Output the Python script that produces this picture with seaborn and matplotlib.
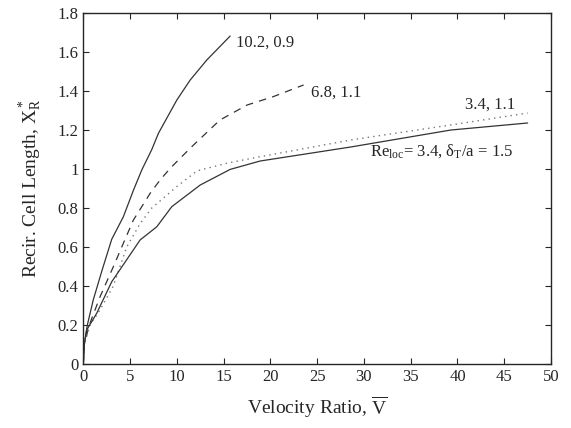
import numpy as np
import pandas as pd
import matplotlib
matplotlib.use('Agg')
import matplotlib.pyplot as plt
import seaborn as sns

# curve: Re_loc = 10.2, dT/a = 0.9
v_a = [0, 0.1, 0.43, 1.07, 2.0, 3.04, 4.28, 5.35, 6.25, 7.32, 8.03, 10.0, 11.42, 13.2, 15.7]
x_a = [0, 0.1, 0.2, 0.33, 0.48, 0.64, 0.755, 0.89, 0.995, 1.1, 1.183, 1.354, 1.456, 1.559, 1.682]
# curve: 6.8, 1.1 (dashed)
v_b = [0, 0.1, 0.64, 1.79, 3.21, 4.28, 5.35, 6.25, 7.14, 8.21, 9.28, 10.35, 11.78, 14.6, 17.5, 20.3, 23.55]
x_b = [0, 0.1, 0.2, 0.345, 0.499, 0.619, 0.738, 0.807, 0.875, 0.944, 1.003, 1.055, 1.123, 1.251, 1.328, 1.371, 1.431]
# curve: 3.4, 1.1 (dotted)
v_c = [0, 0.1, 0.71, 1.79, 3.21, 4.64, 6.07, 7.32, 10.0, 12.14, 15.35, 18.9, 28.6, 39.3, 47.5]
x_c = [0, 0.1, 0.2, 0.277, 0.4, 0.6, 0.72, 0.8, 0.91, 0.99, 1.03, 1.063, 1.149, 1.226, 1.287]
# curve: 3.4, 1.5 (solid)
v_d = [0, 0.1, 0.36, 1.43, 3.04, 6.07, 7.86, 9.46, 12.5, 15.7, 18.9, 28.6, 39.3, 47.5]
x_d = [0, 0.1, 0.174, 0.26, 0.422, 0.636, 0.704, 0.807, 0.918, 0.998, 1.041, 1.113, 1.2, 1.236]

sns.set_style('ticks')
plt.rcParams['font.family'] = ['Liberation Serif', 'DejaVu Serif']
plt.rcParams['mathtext.fontset'] = 'custom'
plt.rcParams['mathtext.rm'] = 'Liberation Serif'
plt.rcParams['mathtext.it'] = 'Liberation Serif:italic'

fig = plt.figure(figsize=(5.71, 4.28), dpi=100)
ax = fig.add_axes([0.1459, 0.1495, 0.8191, 0.8201])

sns.lineplot(x=v_a, y=x_a, ax=ax, color='#333333', lw=0.9, sort=False)
sns.lineplot(x=v_b, y=x_b, ax=ax, color='#333333', lw=0.9, sort=False, linestyle=(0, (6, 5)))
sns.lineplot(x=v_c, y=x_c, ax=ax, color='#777777', lw=1.0, sort=False, linestyle=(0, (1, 3)))
sns.lineplot(x=v_d, y=x_d, ax=ax, color='#333333', lw=0.9, sort=False)

ax.text(16.3, 1.65, '10.2, 0.9', fontsize=12, va='center')
ax.text(24.3, 1.39, '6.8, 1.1', fontsize=12, va='center')
ax.text(40.8, 1.33, '3.4, 1.1', fontsize=12, va='center')
ax.text(30.6, 1.09, r'Re$_\mathrm{loc}$= 3.4, $\mathrm{\delta_T}$/a = 1.5', fontsize=12, va='center')

ax.set_xlim(0, 50)
ax.set_ylim(0, 1.8)
ax.set_xticks(np.arange(0, 51, 5))
ax.set_yticks(np.arange(0, 1.81, 0.2))
ax.set_yticklabels(['0', '0.2', '0.4', '0.6', '0.8', '1', '1.2', '1.4', '1.6', '1.8'])
ax.tick_params(direction='in', top=True, right=True, labelsize=12, length=4, width=0.8)
for s in ax.spines.values():
    s.set_linewidth(1.0)
    s.set_visible(True)
ax.set_xlabel(r'Velocity Ratio, $\mathrm{\overline{V}}$', fontsize=14, labelpad=7)
ax.set_ylabel(r'Recir. Cell Length, $\mathrm{X^*_R}$', fontsize=14, labelpad=10)

plt.savefig('out.png', dpi=100)
